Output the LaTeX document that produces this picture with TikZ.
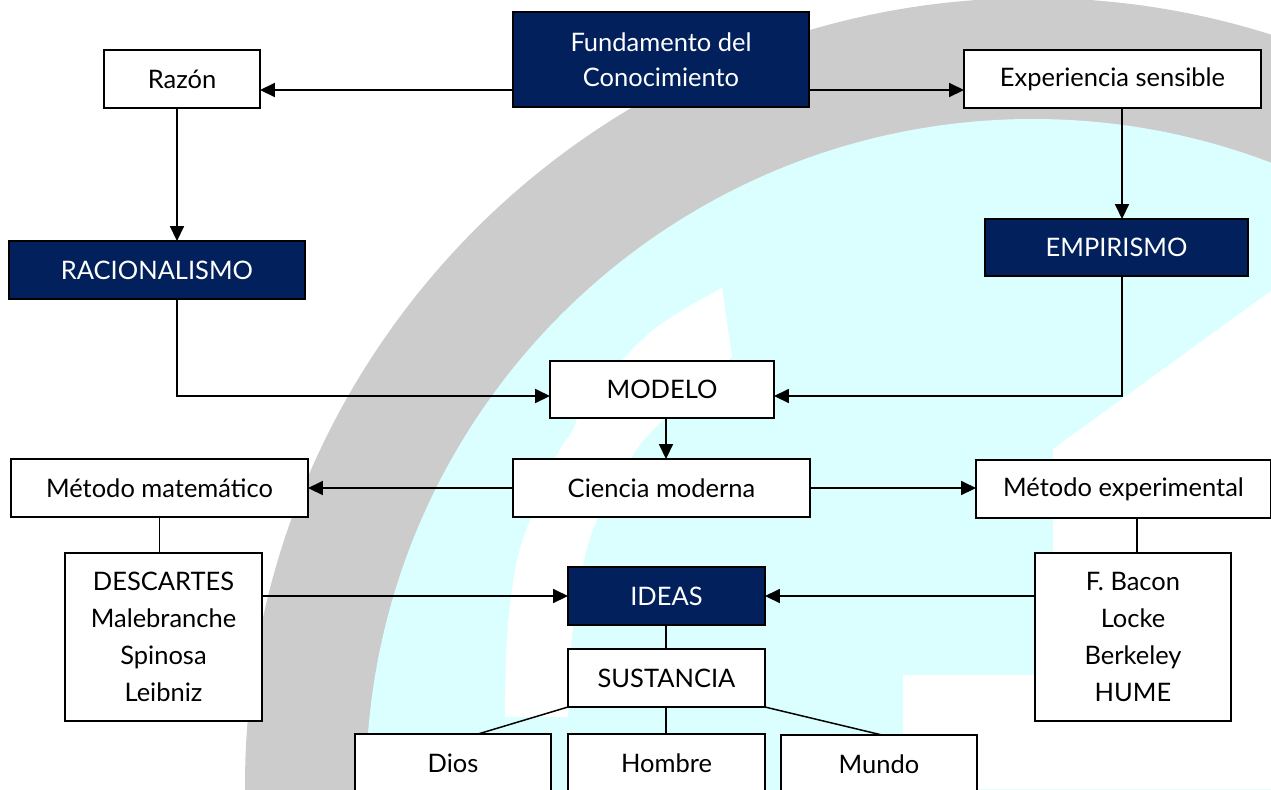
\documentclass[tikz,border=0pt]{standalone}
\usepackage{fontspec}
\setmainfont{Lato}
\usetikzlibrary{arrows.meta,calc}
\definecolor{navy}{RGB}{2,33,92}
\definecolor{ringgrey}{RGB}{204,204,204}
\definecolor{lightcyan}{RGB}{219,255,255}
\newcommand\mybox[7]{%
  \node[#2, minimum width={(#5-#3)*0.02cm}, minimum height={(#6-#4)*0.02cm}] (#1) at ({(#3+#5)/2},{(#4+#6)/2}) {#7};}
\begin{document}
\begin{tikzpicture}[x=0.02cm,y=-0.02cm,
  base/.style={draw=black, line width=1pt, inner sep=0pt, outer sep=0pt, align=center,
    font=\fontsize{14.5}{21}\selectfont},
  wbox/.style={base, fill=white, text=black},
  nbox/.style={base, fill=navy, text=white},
  arr/.style={line width=0.85pt, -{Triangle[length=8.5pt,width=8pt]}},
  ln/.style={line width=0.85pt}]
\useasboundingbox (0,0) rectangle (1271,789);
\fill[white] (0,0) rectangle (1271,789);
% background ring
\begin{scope}
\clip (0,0) rectangle (1271,789);
\fill[ringgrey] (1033,786) circle [radius=788];
\fill[lightcyan] (1033,786) circle [radius=667];
\fill[white] plot[smooth] coordinates {(722,288) (653,330) (587,400) (573,430) (557,455) (530,520) (516,565) (507,637) (505,717)} -- (568,717) -- plot[smooth] coordinates {(568,717) (572,637) (583,565) (597,520) (633,455) (653,430) (700,385) (732,357)} -- (722,288) -- cycle;
\fill[white] (1271,291) -- (1053,449) -- (1053,675) -- (903,675) -- (903,789) -- (1271,789) -- cycle;
\end{scope}
% nodes
\mybox{fund}{nbox,font=\fontsize{14.5}{20}\selectfont}{513}{12}{809}{107}{Fundamento del\\Conocimiento}
\mybox{razon}{wbox}{104}{50}{260}{108}{Razón}
\mybox{exp}{wbox}{964}{50}{1261}{108}{Experiencia sensible}
\mybox{rac}{nbox}{9}{241}{305}{299}{RACIONALISMO}
\mybox{emp}{nbox}{985}{219}{1248}{276}{EMPIRISMO}
\mybox{modelo}{wbox}{550}{361}{774}{418}{MODELO}
\mybox{ciencia}{wbox}{513}{459}{810}{517}{Ciencia moderna}
\mybox{mm}{wbox}{11}{459}{308}{517}{Método matemático}
\mybox{me}{wbox}{976}{460}{1271}{518}{Método experimental}
\mybox{desc}{wbox}{65}{553}{262}{721}{DESCARTES\\Malebranche\\Spinosa\\Leibniz}
\mybox{ideas}{nbox}{568}{567}{765}{625}{IDEAS}
\mybox{bacon}{wbox}{1035}{553}{1231}{721}{F. Bacon\\Locke\\Berkeley\\HUME}
\mybox{sus}{wbox}{568}{649}{765}{707}{SUSTANCIA}
\mybox{dios}{wbox}{355}{734}{551}{792}{Dios}
\mybox{hombre}{wbox}{568}{734}{765}{792}{Hombre}
\mybox{mundo}{wbox}{781}{735}{977}{793}{Mundo}
% helper coordinates
\coordinate (xR) at (177,0);
\coordinate (xE) at (1122,0);
\coordinate (xM) at (666,0);
\coordinate (xB) at (1137,0);
\coordinate (xD) at (478,0);
\coordinate (xW) at (882,0);
\coordinate (f1) at ($(fund.south west)+(0,-17)$);
\coordinate (f2) at ($(fund.south east)+(0,-17)$);
\coordinate (mL) at ($(modelo.south west)+(0,-22)$);
\coordinate (mR) at ($(modelo.south east)+(0,-22)$);
% connectors
\draw[arr] (f1) -- (f1 -| razon.east);
\draw[arr] (f2) -- (f2 -| exp.west);
\draw[arr] (razon.south -| xR) -- (rac.north -| xR);
\draw[arr] (exp.south -| xE) -- (emp.north -| xE);
\draw[arr] (rac.south -| xR) |- (mL);
\draw[arr] (emp.south -| xE) |- (mR);
\draw[arr] (modelo.south -| xM) -- (ciencia.north -| xM);
\draw[arr] (ciencia.west) -- (ciencia.west -| mm.east);
\draw[arr] (ciencia.east) -- (ciencia.east -| me.west);
\draw[ln] (mm.south) -- (mm.south |- desc.north);
\draw[ln] (me.south -| xB) -- (bacon.north -| xB);
\draw[arr] (ideas.west -| desc.east) -- (ideas.west);
\draw[arr] (ideas.east -| bacon.west) -- (ideas.east);
\draw[ln] (ideas.south -| xM) -- (sus.north -| xM);
\draw[ln] (sus.south west) -- (dios.north -| xD);
\draw[ln] (sus.south -| xM) -- (hombre.north -| xM);
\draw[ln] (sus.south east) -- (mundo.north -| xW);
\end{tikzpicture}
\end{document}
